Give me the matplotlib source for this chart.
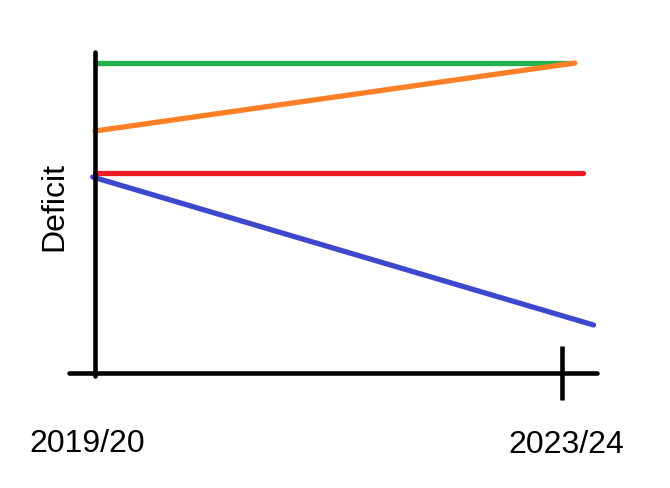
import matplotlib
matplotlib.use("Agg")
import matplotlib.pyplot as plt

plt.rcParams['font.family'] = ['Liberation Sans', 'DejaVu Sans']

# sketch data (x in years since 2019/20, y deficit in arbitrary units)
years = ["2019/20", "2023/24"]
green_x = [0, 4.08]
green_y = [31.0, 31.0]
orange_x = [0, 4.11]
orange_y = [24.2, 31.0]
red_x = [0, 4.18]
red_y = [20.0, 20.0]
blue_x = [-0.02, 4.27]
blue_y = [19.6, 4.8]

fig = plt.figure(figsize=(6.7, 4.89), dpi=100)
ax = fig.add_axes([0, 0, 1, 1])
ax.set_xlim(-0.8137, 4.925)
ax.set_ylim(-11.5, 37.4)

lw = 3.8
ax.plot(green_x, green_y, color='#22b14c', lw=lw, solid_capstyle='round')
ax.plot(orange_x, orange_y, color='#ff7f27', lw=lw, solid_capstyle='round')
ax.plot(red_x, red_y, color='#ed1c24', lw=lw, solid_capstyle='round')
ax.plot(blue_x, blue_y, color='#3f48cc', lw=lw, solid_capstyle='round')

# hand drawn looking axes
for s in ['top', 'right']:
    ax.spines[s].set_visible(False)
ax.spines['left'].set_position(('data', 0))
ax.spines['bottom'].set_position(('data', 0))
ax.spines['left'].set_bounds(-0.3, 32.1)
ax.spines['bottom'].set_bounds(-0.22, 4.30)
for s in ['left', 'bottom']:
    ax.spines[s].set_linewidth(3.3)
    ax.spines[s].set_capstyle('round')
ax.set_yticks([])
ax.set_xticks([4])
ax.set_xticklabels([])
ax.tick_params(axis='x', direction='inout', length=39, width=3.3, color='black')

ax.text(-0.07, -7.8, years[0], fontsize=23, ha='center', va='baseline')
ax.text(4.04, -7.9, years[1], fontsize=23, ha='center', va='baseline')
ax.text(-0.351, 16.7, "Deficit", fontsize=23, rotation=90, ha='center', va='center')

fig.savefig("out.png", dpi=100)
